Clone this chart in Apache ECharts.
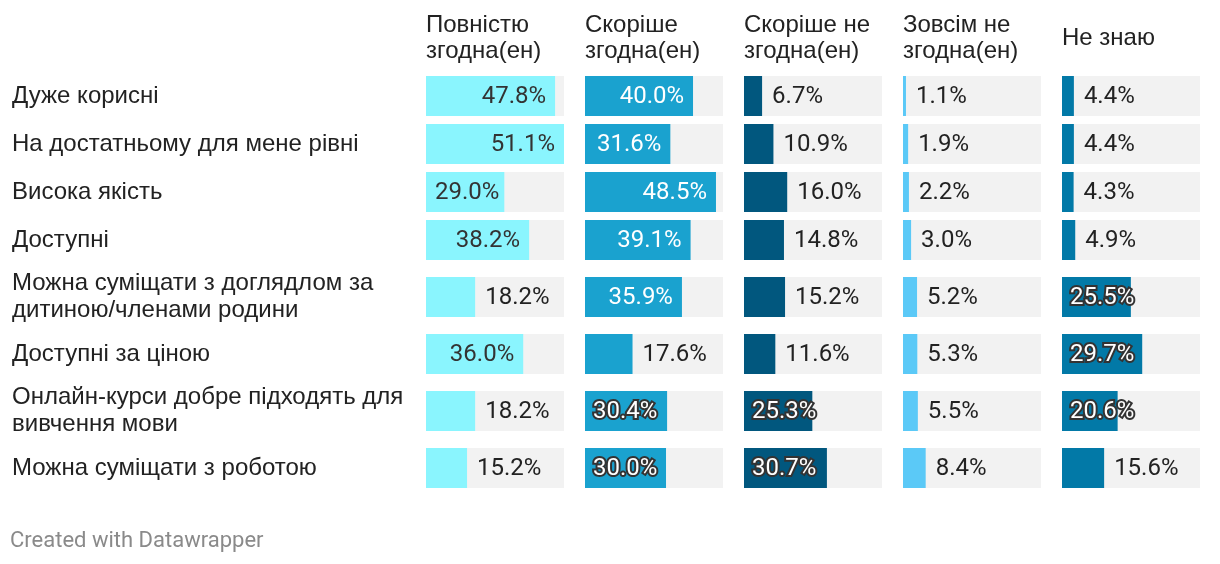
<!DOCTYPE html>
<html><head><meta charset="utf-8">
<script src="https://cdn.jsdelivr.net/npm/echarts@6.0.0/dist/echarts.min.js"></script>
<style>html,body{margin:0;padding:0;background:#fff}#c{width:1220px;height:564px}</style>
</head><body><div id="c"></div>
<script>
// ---- data ----
const categories = [
  'Дуже корисні',
  'На достатньому для мене рівні',
  'Висока якість',
  'Доступні',
  'Можна суміщати з доглядлом за\nдитиною/членами родини',
  'Доступні за ціною',
  'Онлайн-курси добре підходять для\nвивчення мови',
  'Можна суміщати з роботою'
];
const seriesNames = ['Повністю\nзгодна(ен)', 'Скоріше\nзгодна(ен)', 'Скоріше не\nзгодна(ен)', 'Зовсім не\nзгодна(ен)', 'Не знаю'];
const fullyAgree     = [47.8, 51.1, 29.0, 38.2, 18.2, 36.0, 18.2, 15.2];
const ratherAgree    = [40.0, 31.6, 48.5, 39.1, 35.9, 17.6, 30.4, 30.0];
const ratherDisagree = [6.7, 10.9, 16.0, 14.8, 15.2, 11.6, 25.3, 30.7];
const fullyDisagree  = [1.1, 1.9, 2.2, 3.0, 5.2, 5.3, 5.5, 8.4];
const dontKnow       = [4.4, 4.4, 4.3, 4.9, 25.5, 29.7, 20.6, 15.6];
const footerText = 'Created with Datawrapper';

// ---- style / layout ----
const panels = [fullyAgree, ratherAgree, ratherDisagree, fullyDisagree, dontKnow];
const colors = ['#8af5fe', '#1aa2cf', '#01577e', '#5bc9f7', '#0279a7'];
const insideColor = ['#333', '#fff', '#fff', '#333', '#fff'];
const LABEL_FONT = 'Liberation Sans';
const VALUE_FONT = 'Roboto';
const VALUE_SIZE = 24;
const panelLeft0 = 426, panelStep = 159, panelWidth = 138;
const rowStart = 72, rowSingle = 48, rowDouble = 66, barH = 40;
const maxVal = Math.max(...panels.flat());

const ctx = document.createElement('canvas').getContext('2d');
ctx.font = VALUE_SIZE + 'px ' + VALUE_FONT;
function textW(s) { return ctx.measureText(s).width; }
const fmt = v => v.toFixed(1) + '%';

const grids = [], xAxes = [], yAxes = [], seriesList = [], titles = [];
let rowTop = rowStart;
categories.forEach((cat, i) => {
  const h = cat.indexOf('\n') >= 0 ? rowDouble : rowSingle;
  panels.forEach((arr, j) => {
    const k = grids.length;
    grids.push({ left: panelLeft0 + panelStep * j, width: panelWidth, top: rowTop, height: h, containLabel: false });
    xAxes.push({ gridIndex: k, type: 'value', min: 0, max: maxVal, show: false });
    yAxes.push({
      gridIndex: k, type: 'category', data: [cat],
      axisLine: { show: false }, axisTick: { show: false }, splitLine: { show: false },
      axisLabel: {
        show: j === 0, align: 'left', margin: panelLeft0 - 12,
        fontFamily: LABEL_FONT, fontSize: 24, color: '#222', lineHeight: 27,
        padding: [2, 0, 0, 0]
      }
    });
    const v = arr[i];
    const px = v / maxVal * panelWidth;
    const tw = textW(fmt(v));
    let label;
    const base = { show: true, fontFamily: VALUE_FONT, fontSize: VALUE_SIZE, offset: [0, 1], formatter: p => fmt(p.value) };
    if (px >= tw + 20) {
      label = Object.assign(base, { position: 'insideRight', distance: 9, color: insideColor[j] });
    } else if (px >= 52) {
      if (insideColor[j] === '#fff') {
        label = Object.assign(base, { position: 'insideLeft', distance: 8, color: '#fff', textBorderColor: '#333', textBorderWidth: 4 });
      } else {
        label = Object.assign(base, { position: 'insideLeft', distance: 9, color: '#333' });
      }
    } else {
      label = Object.assign(base, { position: 'right', distance: 10, color: '#222' });
    }
    seriesList.push({
      type: 'bar', xAxisIndex: k, yAxisIndex: k, barWidth: barH,
      data: [v], itemStyle: { color: colors[j] },
      showBackground: true, backgroundStyle: { color: '#f2f2f2' },
      label: label, silent: true, animation: false
    });
  });
  rowTop += h;
});

seriesNames.forEach((name, j) => {
  const two = name.indexOf('\n') >= 0;
  titles.push({
    text: name, left: panelLeft0 + panelStep * j, top: two ? 12 : 25, padding: 0,
    textStyle: { fontFamily: LABEL_FONT, fontSize: 24, fontWeight: 'normal', color: '#222', lineHeight: 26 }
  });
});

const chart = echarts.init(document.getElementById('c'), null, { renderer: 'canvas' });
chart.setOption({
  animation: false,
  backgroundColor: '#fff',
  title: titles,
  grid: grids, xAxis: xAxes, yAxis: yAxes, series: seriesList,
  graphic: [{
    type: 'text', left: 10, top: 530,
    style: { text: footerText, font: '22px ' + VALUE_FONT, fill: '#8a8a8a' }
  }]
});
</script></body></html>
